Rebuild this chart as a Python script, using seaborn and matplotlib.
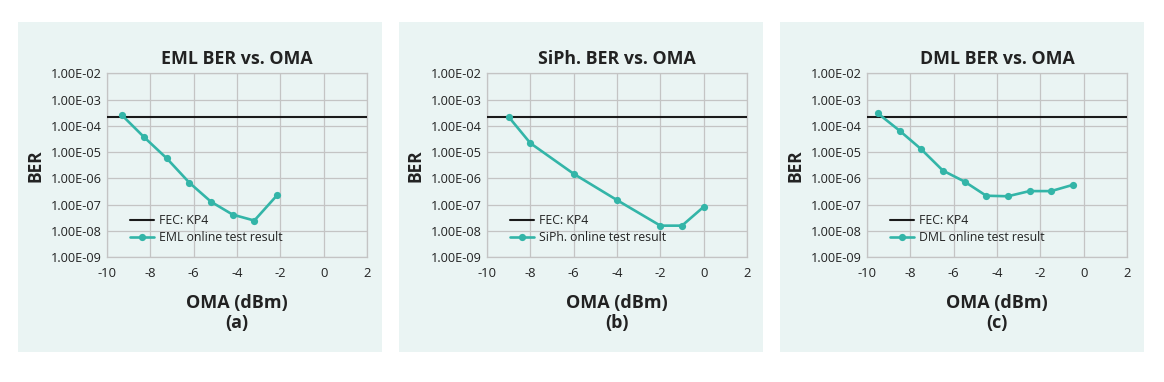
import numpy as np
import pandas as pd
import matplotlib
matplotlib.use("Agg")
import matplotlib.pyplot as plt
from matplotlib.patches import Rectangle
import seaborn as sns

# ---- data ----
eml_oma = [-9.3, -8.3, -7.25, -6.2, -5.2, -4.2, -3.2, -2.15]
eml_ber = [2.5e-4, 3.8e-5, 5.9e-6, 6.9e-7, 1.3e-7, 4.2e-8, 2.5e-8, 2.3e-7]

siph_oma = [-9.0, -8.0, -6.0, -4.0, -2.0, -1.0, 0.0]
siph_ber = [2.2e-4, 2.2e-5, 1.5e-6, 1.5e-7, 1.6e-8, 1.6e-8, 8.3e-8]

dml_oma = [-9.5, -8.5, -7.5, -6.5, -5.5, -4.5, -3.5, -2.5, -1.5, -0.5]
dml_ber = [3.0e-4, 6.6e-5, 1.3e-5, 2.0e-6, 7.6e-7, 2.2e-7, 2.1e-7, 3.3e-7, 3.3e-7, 5.7e-7]

fec_kp4 = 2.2e-4

titles = ["EML BER vs. OMA", "SiPh. BER vs. OMA", "DML BER vs. OMA"]
legend_labels = ["EML online test result", "SiPh. online test result", "DML online test result"]
sublabels = ["(a)", "(b)", "(c)"]
x_ticks = [-10, -8, -6, -4, -2, 0, 2]
y_ticks = [1e-2, 1e-3, 1e-4, 1e-5, 1e-6, 1e-7, 1e-8, 1e-9]
y_tick_labels = ["1.00E-02", "1.00E-03", "1.00E-04", "1.00E-05",
                 "1.00E-06", "1.00E-07", "1.00E-08", "1.00E-09"]

series = [(eml_oma, eml_ber), (siph_oma, siph_ber), (dml_oma, dml_ber)]

# ---- style ----
sns.set_theme(style="white")
plt.rcParams['font.family'] = ['Open Sans', 'DejaVu Sans']
plt.rcParams['axes.unicode_minus'] = False

W, H = 1164, 382
fig = plt.figure(figsize=(W / 100, H / 100), dpi=100)
fig.patch.set_facecolor("white")

bg = "#eaf4f3"
teal = "#33b5a8"
text_c = "#222222"
grid_c = "#c4c4c4"

panel_lefts = [18, 399, 780]
panel_w = 364
axes_left0 = 107
axes_w = 260
axes_top = 73.3
axes_bot = 257.3

for i in range(3):
    px = panel_lefts[i]
    fig.patches.append(Rectangle((px / W, 1 - 352 / H), panel_w / W, (352 - 22) / H,
                                 transform=fig.transFigure, facecolor=bg,
                                 edgecolor="none", zorder=-10))
    ax_left = axes_left0 + i * 380
    ax = fig.add_axes([ax_left / W, 1 - axes_bot / H, axes_w / W, (axes_bot - axes_top) / H])
    ax.set_zorder(5)
    ax.set_facecolor(bg)

    df = pd.DataFrame({"OMA": series[i][0], "BER": series[i][1]})
    ax.axhline(fec_kp4, color="#1a1a1a", lw=1.5, label="FEC: KP4", zorder=3)
    sns.lineplot(data=df, x="OMA", y="BER", ax=ax, color=teal, lw=1.9,
                 marker="o", markersize=5.2, markeredgewidth=0,
                 label=legend_labels[i], zorder=4)

    ax.set_yscale("log")
    ax.set_xlim(-10, 2)
    ax.set_ylim(1e-9, 1e-2)
    ax.set_xticks(x_ticks)
    ax.set_xticklabels([str(t) for t in x_ticks])
    ax.set_yticks(y_ticks)
    ax.set_yticklabels(y_tick_labels)
    ax.yaxis.set_minor_locator(matplotlib.ticker.NullLocator())
    ax.tick_params(axis="y", labelsize=9.2, colors=text_c, length=0, pad=4)
    ax.tick_params(axis="x", labelsize=9.4, colors=text_c, length=0, pad=7)
    ax.grid(True, color=grid_c, lw=0.9)
    for s in ax.spines.values():
        s.set_color(grid_c)
        s.set_linewidth(0.9)

    ax.set_title(titles[i], fontsize=12.8, fontweight="bold", color=text_c, pad=7)
    ax.set_ylabel("BER", fontsize=12.5, fontweight="bold", color=text_c, labelpad=4)
    ax.set_xlabel("OMA (dBm)\n" + sublabels[i], fontsize=13, fontweight="bold",
                  color=text_c, labelpad=10, linespacing=1.15)

    leg = ax.legend(loc="lower left", bbox_to_anchor=(0.055, 0.025), frameon=False,
                    fontsize=8.8, handlelength=2.0, handletextpad=0.4,
                    labelspacing=0.3, borderaxespad=0.3)
    for t in leg.get_texts():
        t.set_color(text_c)

fig.savefig("out.png", dpi=100, facecolor="white")
